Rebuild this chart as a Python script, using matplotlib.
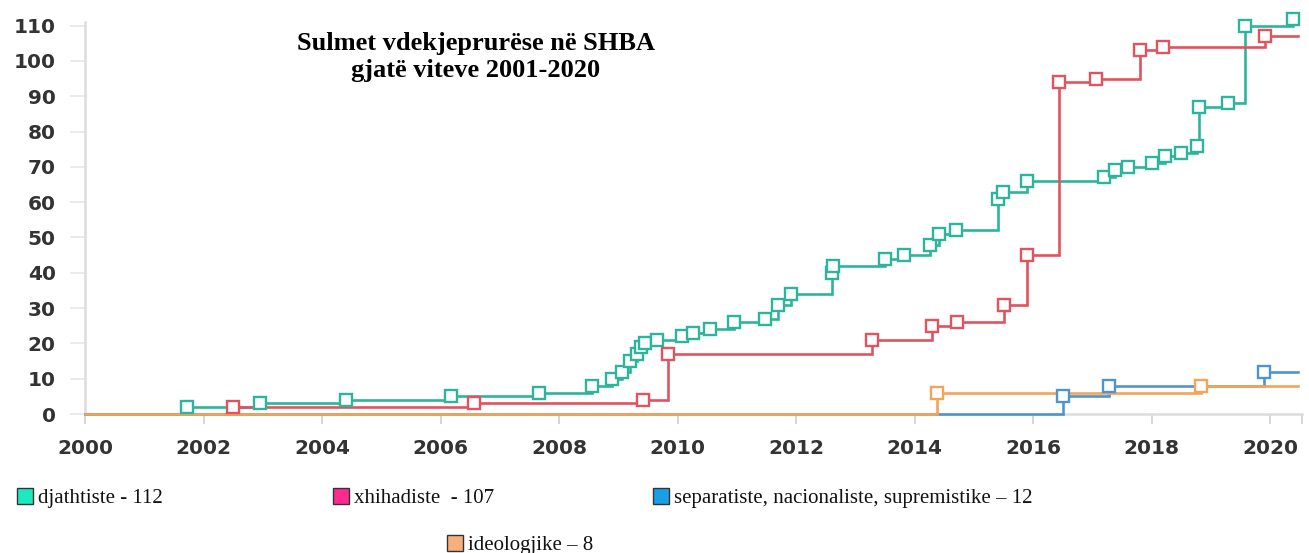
import matplotlib.pyplot as plt
from matplotlib.patches import Rectangle

# --- data (event date, cumulative deaths) ---
right_years = [2001.72, 2002.95, 2004.4, 2006.18, 2007.67, 2008.56, 2008.9, 2009.06,
               2009.2, 2009.32, 2009.38, 2009.45, 2009.65, 2010.08, 2010.26, 2010.55,
               2010.95, 2011.48, 2011.7, 2011.92, 2012.6, 2012.63, 2013.5, 2013.82,
               2014.26, 2014.42, 2014.7, 2015.41, 2015.5, 2015.9, 2017.2, 2017.38,
               2017.6, 2018.0, 2018.23, 2018.5, 2018.76, 2018.8, 2019.29, 2019.58, 2020.39]
right_deaths = [2, 3, 4, 5, 6, 8, 10, 12, 15, 17, 19, 20, 21, 22, 23, 24, 26, 27, 31, 34,
                40, 42, 44, 45, 48, 51, 52, 61, 63, 66, 67, 69, 70, 71, 73, 74, 76, 87,
                88, 110, 112]

jihad_years = [2002.5, 2006.57, 2009.42, 2009.84, 2013.28, 2014.3, 2014.72, 2015.51,
               2015.9, 2016.44, 2017.06, 2017.8, 2018.19, 2019.92]
jihad_deaths = [2, 3, 4, 17, 21, 25, 26, 31, 45, 94, 95, 103, 104, 107]

sep_years = [2016.5, 2017.28, 2019.9]
sep_deaths = [5, 8, 12]

ideo_years = [2014.38, 2018.84]
ideo_deaths = [6, 8]

legend_labels = ['djathtiste - 112', 'xhihadiste  - 107',
                 'separatiste, nacionaliste, supremistike – 12', 'ideologjike – 8']
legend_colors = ['#1de9c0', '#ff2a8f', '#1a9fe6', '#f7b07c']

W, H = 1309, 553
fig = plt.figure(figsize=(W / 100, H / 100), dpi=100)
ax = fig.add_axes([85 / W, 1 - 414 / H, (1302 - 85) / W, (414 - 15) / H])

X_START, X_END, X_MAX = 2000, 2020.47, 2020.54


def draw(xs, ys, color, z, end=X_END):
    sx = [X_START] + xs + ([end] if end > xs[-1] else [])
    sy = [0] + ys + ([ys[-1]] if end > xs[-1] else [])
    ax.step(sx, sy, where='post', color=color, lw=1.9, zorder=z, clip_on=False,
            solid_joinstyle='miter')
    ax.plot(xs, ys, 's', ms=9, mfc='white', mec=color, mew=1.7, zorder=6,
            clip_on=False)


draw(right_years, right_deaths, '#2db59c', 3.0, end=right_years[-1])
draw(jihad_years, jihad_deaths, '#e2535f', 3.2)
draw(sep_years, sep_deaths, '#4f94cf', 3.4)
draw(ideo_years, ideo_deaths, '#f4a457', 3.6)

ax.set_xlim(X_START, X_MAX)
ax.set_ylim(0, 113)
ax.set_xticks(range(2000, 2021, 2))
ax.set_xticks([X_MAX], minor=True)
ax.set_yticks(range(0, 111, 10))

for s in ['top', 'right']:
    ax.spines[s].set_visible(False)
for s in ['left', 'bottom']:
    ax.spines[s].set_color('#dcdcdc')
    ax.spines[s].set_linewidth(1.8)
ax.spines['left'].set_bounds(0, 111)

ax.tick_params(axis='y', length=11, width=1.2, color='#e6e6e6', pad=10,
               labelsize=14.5, labelcolor='#333333')
ax.tick_params(axis='x', which='both', length=7, width=1.2, color='#cfcfcf', pad=11,
               labelsize=14.5, labelcolor='#333333')
for lab in ax.get_xticklabels() + ax.get_yticklabels():
    lab.set_fontweight('bold')

fig.text(476 / W, 1 - 57 / H, 'Sulmet vdekjeprurëse në SHBA\ngjatë viteve 2001-2020',
         ha='center', va='center', family='Liberation Serif', fontweight='bold',
         fontsize=19, linespacing=1.22)

# legend (placed by hand like the original)
leg_pos = [(17, 496), (333, 496), (653, 496), (447, 543)]
for (px, py), lab, col in zip(leg_pos, legend_labels, legend_colors):
    fig.add_artist(Rectangle((px / W, 1 - (py + 8) / H), 16 / W, 16 / H,
                             transform=fig.transFigure, facecolor=col,
                             edgecolor='#333333', lw=1.0))
    fig.text((px + 21) / W, 1 - (py + 7) / H, lab, ha='left', va='baseline',
             family='Liberation Serif', fontsize=15, color='#111111')

fig.savefig('out.png', dpi=100)
